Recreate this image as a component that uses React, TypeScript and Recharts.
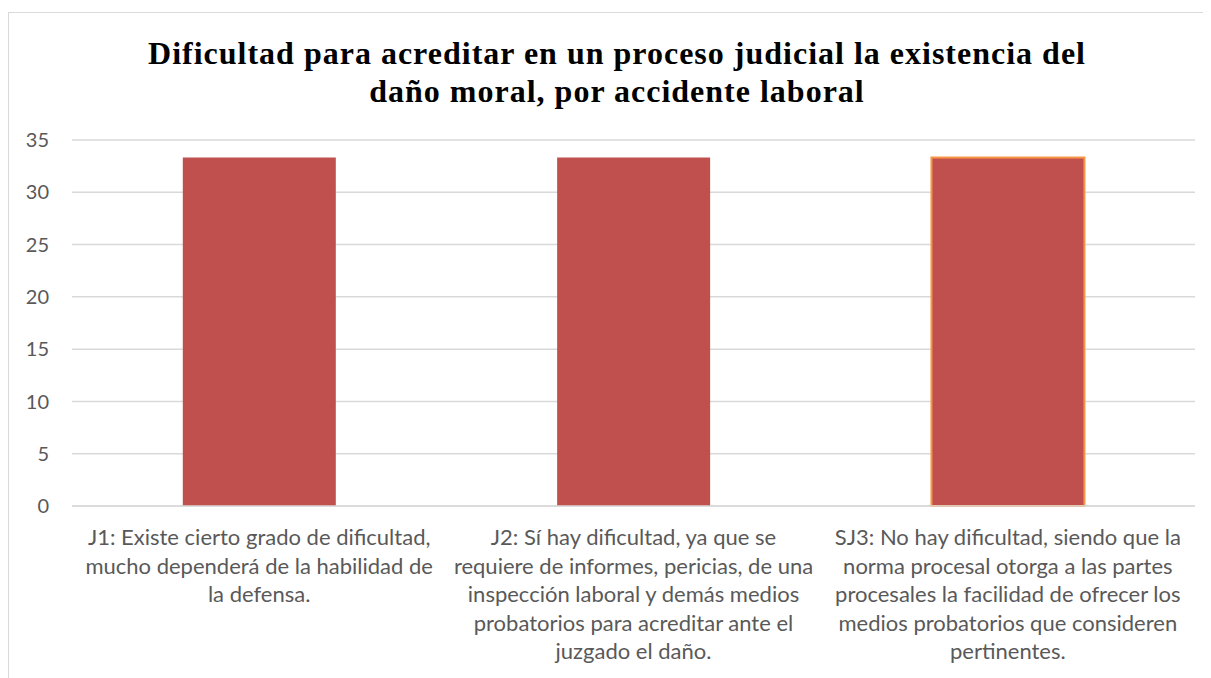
import React from "react";
import { BarChart, Bar, XAxis, YAxis, CartesianGrid, Cell } from "recharts";

const titleLines = [
  "Dificultad para acreditar en un proceso judicial la existencia del",
  "daño moral, por accidente laboral",
];

const categories = ["J1", "J2", "SJ3"];

const categoryLabels: string[][] = [
  [
    "J1: Existe cierto grado de dificultad,",
    "mucho dependerá de la habilidad de",
    "la defensa.",
  ],
  [
    "J2: Sí hay dificultad, ya que se",
    "requiere de informes, pericias, de una",
    "inspección laboral y demás medios",
    "probatorios para acreditar ante el",
    "juzgado el daño.",
  ],
  [
    "SJ3: No hay dificultad, siendo que la",
    "norma procesal otorga a las partes",
    "procesales la facilidad de ofrecer los",
    "medios probatorios que consideren",
    "pertinentes.",
  ],
];

const values = [33.33, 33.33, 33.33];

const yTicks = [0, 5, 10, 15, 20, 25, 30, 35];

const data = categories.map((c, i) => ({ name: c, value: values[i], idx: i }));

const XTick = (props: any) => {
  const { x, y, index } = props;
  const lines = categoryLabels[index] || [];
  return (
    <text
      x={x}
      y={y}
      textAnchor="middle"
      fill="#595959"
      fontSize={22}
      fontFamily="Lato, 'Open Sans', sans-serif"
    >
      {lines.map((l, i) => (
        <tspan key={i} x={x} dy={i === 0 ? 37 : 28.5}>
          {l}
        </tspan>
      ))}
    </text>
  );
};

export default function App() {
  return (
    <div
      style={{
        position: "relative",
        marginTop: 4,
        width: 1210,
        height: 680,
        border: "1px solid #D9D9D9",
        boxSizing: "border-box",
        background: "#fff",
      }}
    >
      <div
        style={{
          position: "absolute",
          left: 0,
          top: 21,
          width: 1216,
          textAlign: "center",
          fontFamily: "'Liberation Serif', 'DejaVu Serif', serif",
          fontWeight: "bold",
          fontSize: 32,
          letterSpacing: 1,
          lineHeight: "38px",
          color: "#000",
        }}
      >
        {titleLines.map((l, i) => (
          <div key={i}>{l}</div>
        ))}
      </div>
      <div style={{ position: "absolute", left: 0, top: 0 }}>
        <BarChart
          width={1203}
          height={665}
          data={data}
          margin={{ top: 127, right: 17, bottom: 7, left: 0 }}
          barCategoryGap="29.6%"
        >
          <CartesianGrid
            vertical={false}
            stroke="#D9D9D9"
            strokeWidth={1.5}
          />
          <YAxis
            width={63}
            domain={[0, 35]}
            ticks={yTicks}
            interval={0}
            axisLine={false}
            tickLine={false}
            tickSize={0}
            tickMargin={23}
            tick={{
              fill: "#595959",
              fontSize: 20,
              fontFamily: "Lato, 'Open Sans', sans-serif",
            }}
          />
          <XAxis
            dataKey="name"
            height={165}
            interval={0}
            axisLine={{ stroke: "#D9D9D9", strokeWidth: 1.5 }}
            tickLine={false}
            tickSize={0}
            tick={<XTick />}
          />
          <Bar dataKey="value" fill="#C0504D" isAnimationActive={false}>
            {data.map((d, i) => (
              <Cell
                key={i}
                fill="#C0504D"
                stroke={i === 2 ? "#F79646" : "none"}
                strokeWidth={i === 2 ? 2 : 0}
              />
            ))}
          </Bar>
        </BarChart>
      </div>
    </div>
  );
}
